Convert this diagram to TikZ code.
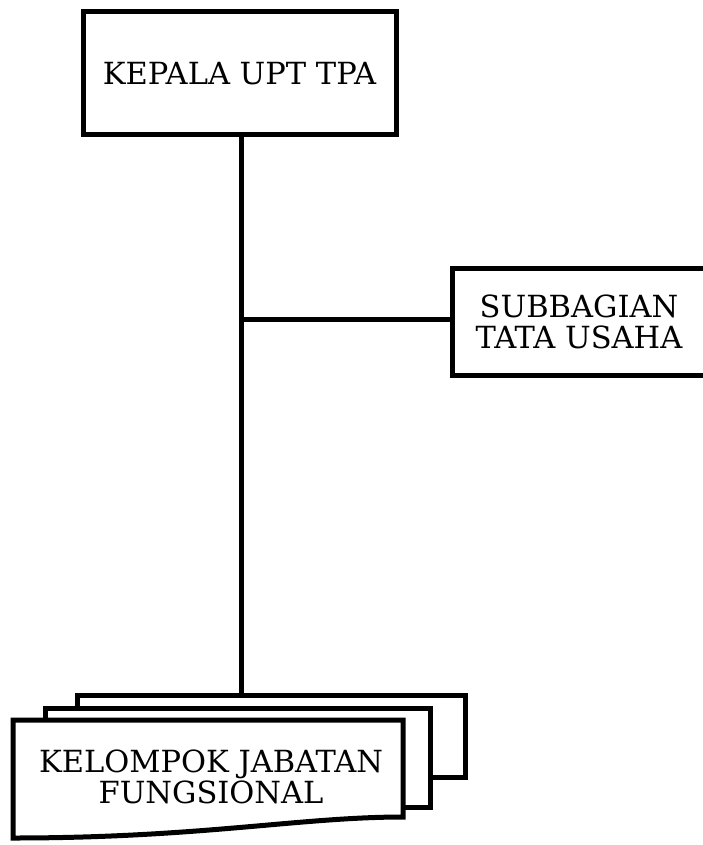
\documentclass[tikz,border=0pt]{standalone}
\usepackage{fontspec}
\setmainfont{DejaVu Serif}
\usepackage{tikz}
\usetikzlibrary{positioning}

\begin{document}
\begin{tikzpicture}[x=1pt,y=-1pt,
  unit/.style={draw,line width=5pt,fill=white,align=center,inner sep=0pt,font=\fontsize{30.5}{31}\selectfont},
  page/.style={draw,line width=5pt,fill=white,inner sep=0pt},
  link/.style={line width=5pt}]
\useasboundingbox (0,0) rectangle (702,845);

\node (kepala) [unit,minimum width=313pt,minimum height=123pt] at (239.5,73.5) {KEPALA UPT TPA};
\node (tatausaha) [unit,minimum width=254pt,minimum height=107pt] at (579,321.5) {SUBBAGIAN\\TATA USAHA};

% tumpukan kelompok jabatan fungsional
\node (page3) [page,minimum width=388pt,minimum height=82pt] at (271,736) {};
\node (page2) [page,minimum width=385pt,minimum height=99pt] at (237.5,757.5) {};
\draw [link,fill=white] (13,720) -- (403,720) -- (403,817) .. controls (300,817) and (200,838) .. (13,838) -- cycle;
\node (kelompok) [unit,draw=none,fill=none] at (211,777) {KELOMPOK JABATAN\\FUNGSIONAL};

\coordinate (fork) at (241,319);
\path [link]

(kepala.south -| fork)
edge
(fork)

(fork)
edge
(fork -| tatausaha.west)

(fork)
edge
(page3.north -| fork)

;
\end{tikzpicture}
\end{document}
